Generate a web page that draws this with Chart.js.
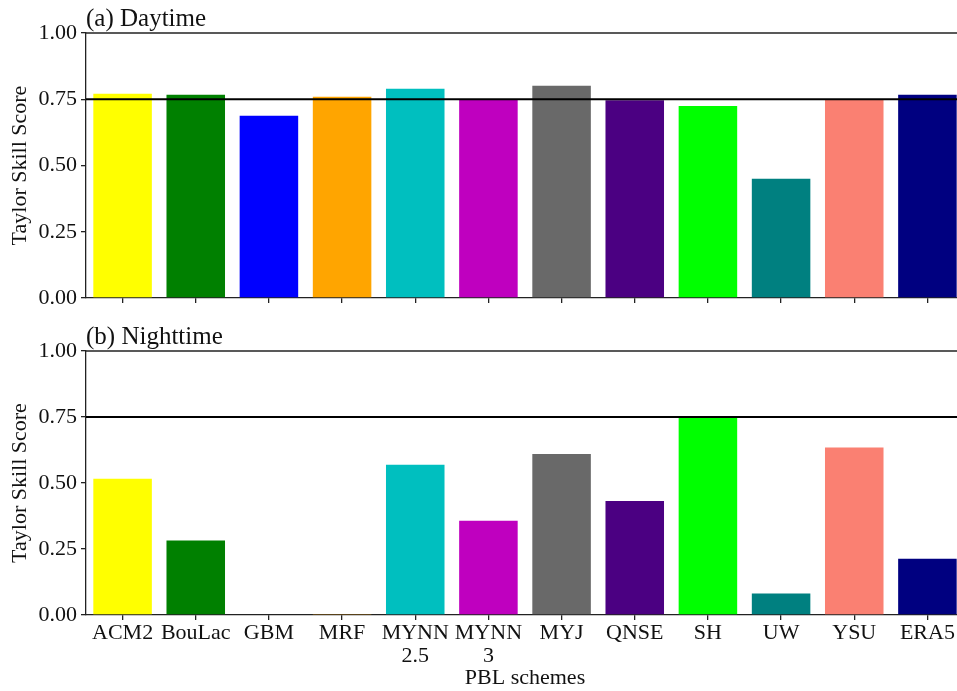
<!DOCTYPE html>
<html>
<head>
<meta charset="utf-8">
<script src="https://cdn.jsdelivr.net/npm/chart.js@4.4.1/dist/chart.umd.min.js"></script>
<style>
  html, body { margin: 0; padding: 0; background: #fff; overflow: hidden; width: 957px; height: 691px; }
  #wrap { position: relative; width: 957px; height: 691px; overflow: hidden; }
  canvas { position: absolute; left: 0; }
  #cDay { top: 0; }
  #cNight { top: 320px; }
</style>
</head>
<body>
<div id="wrap">
  <canvas id="cDay" width="970" height="316"></canvas>
  <canvas id="cNight" width="970" height="371"></canvas>
</div>
<script>
/* Taylor skill score per PBL scheme, day vs night (Chart.js v4). */
var SCHEMES = ["ACM2", "BouLac", "GBM", "MRF", ["MYNN", "2.5"], ["MYNN", "3"], "MYJ", "QNSE", "SH", "UW", "YSU", "ERA5"];
var COLORS = ["#ffff00", "#008000", "#0000ff", "#ffa500", "#00bfbf", "#bf00bf", "#696969", "#4b0082", "#00ff00", "#008080", "#fa8072", "#000080"];
var DAY = [0.771, 0.767, 0.688, 0.759, 0.790, 0.747, 0.801, 0.746, 0.725, 0.450, 0.747, 0.767];
var NIGHT = [0.516, 0.282, 0.003, 0.002, 0.569, 0.357, 0.610, 0.432, 0.754, 0.081, 0.634, 0.213];
var Y_TICKS = [0, 0.25, 0.5, 0.75, 1];
var THRESHOLD = 0.75;

var FONT = "'Liberation Serif', 'Times New Roman', serif";
var INK = "#111", AXIS = "#222";
Chart.defaults.font.family = FONT;
Chart.defaults.color = INK;

// threshold line, top frame and panel label
var panelPlugin = {
  id: "panel",
  afterDraw: function (chart, args, opts) {
    var a = chart.chartArea, ctx = chart.ctx;
    var y = chart.scales.y.getPixelForValue(THRESHOLD);
    ctx.save();
    ctx.strokeStyle = "#000"; ctx.lineWidth = 2;
    ctx.beginPath(); ctx.moveTo(a.left, y); ctx.lineTo(a.right, y); ctx.stroke();
    ctx.strokeStyle = AXIS; ctx.lineWidth = 1.3;
    ctx.beginPath(); ctx.moveTo(a.left, a.top); ctx.lineTo(a.right, a.top); ctx.stroke();
    ctx.fillStyle = INK; ctx.font = "25px " + FONT; ctx.textBaseline = "alphabetic"; ctx.textAlign = "left";
    ctx.fillText(opts.label, a.left, a.top - 7);
    ctx.restore();
  }
};

function makePanel(id, label, values, showX, topPad, xHeight) {
  return new Chart(document.getElementById(id), {
    type: "bar",
    data: {
      labels: SCHEMES,
      datasets: [{ data: values, backgroundColor: COLORS, borderWidth: 0, barPercentage: 0.8, categoryPercentage: 1 }]
    },
    options: {
      responsive: false, devicePixelRatio: 1, animation: false,
      layout: { padding: { left: 0, right: 6, top: topPad, bottom: 0 } },
      plugins: { legend: { display: false }, tooltip: { enabled: false }, panel: { label: label } },
      scales: {
        x: {
          offset: true,
          grid: { display: true, drawOnChartArea: false, offset: false, tickLength: 5, color: AXIS, lineWidth: 1.3 },
          border: { display: true, color: AXIS, width: 1.3 },
          ticks: { display: showX, autoSkip: false, maxRotation: 0, padding: 2, font: { size: 22, lineHeight: 1.05 }, color: INK },
          title: { display: showX, text: "PBL schemes", font: { size: 22, lineHeight: 1.2 }, padding: 0, color: INK },
          afterFit: function (s) { s.height = xHeight; }
        },
        y: {
          min: 0, max: 1,
          afterBuildTicks: function (s) { s.ticks = Y_TICKS.map(function (v) { return { value: v }; }); },
          grid: { display: true, drawOnChartArea: false, tickLength: 5, color: AXIS, lineWidth: 1.3 },
          border: { display: true, color: AXIS, width: 1.3 },
          ticks: { padding: 4, font: { size: 22 }, color: INK, callback: function (v) { return Number(v).toFixed(2); } },
          title: { display: true, text: "Taylor Skill Score", font: { size: 22, lineHeight: 1.2 }, padding: { top: 7, bottom: 0 }, color: INK },
          afterFit: function (s) { s.width = 86; }
        }
      }
    },
    plugins: [panelPlugin]
  });
}

makePanel("cDay", "(a) Daytime", DAY, false, 33, 18);
makePanel("cNight", "(b) Nighttime", NIGHT, true, 31, 76);
</script>
</body>
</html>
